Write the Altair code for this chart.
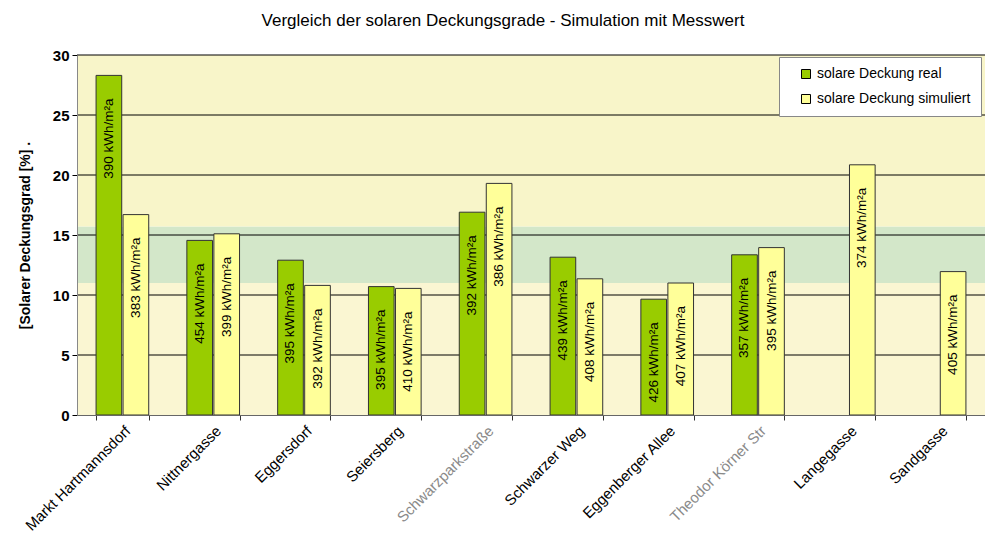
import altair as alt
import pandas as pd

standorte = ["Markt Hartmannsdorf", "Nittnergasse", "Eggersdorf", "Seiersberg",
             "Schwarzparkstraße", "Schwarzer Weg", "Eggenberger Allee",
             "Theodor Körner Str", "Langegasse", "Sandgasse"]
real = [28.3, 14.55, 12.9, 10.7, 16.9, 13.15, 9.65, 13.35, None, None]
simuliert = [16.7, 15.1, 10.8, 10.55, 19.3, 11.35, 11.0, 13.95, 20.85, 11.95]
real_kwh = ["390", "454", "395", "395", "392", "439", "426", "357", None, None]
sim_kwh = ["383", "399", "392", "410", "386", "408", "407", "395", "374", "405"]

serien = ["solare Deckung real", "solare Deckung simuliert"]
farben = ["#99CC00", "#FFFF99"]

band_lo = [0, 11, 15.7]
band_hi = [11, 15.7, 30]
band_farbe = ["#FAF6D2", "#D3E7C9", "#F8F5C9"]

grid_werte = [5, 10, 15, 20, 25, 30]

WIDTH = 908
HEIGHT = 360

rows = []
for i, s in enumerate(standorte):
    if real[i] is not None:
        rows.append({"Standort": s, "Serie": serien[0], "Wert": real[i],
                     "Label": real_kwh[i] + " kWh/m²a"})
    rows.append({"Standort": s, "Serie": serien[1], "Wert": simuliert[i],
                 "Label": sim_kwh[i] + " kWh/m²a"})
df = pd.DataFrame(rows)

bg_df = pd.DataFrame({"lo": band_lo, "hi": band_hi, "farbe": band_farbe})
grid_df = pd.DataFrame({"g": grid_werte})

yscale = alt.Scale(domain=[0, 30], nice=False, zero=True)
xscale = alt.Scale(domain=standorte, paddingInner=0.42, paddingOuter=0.21)
offscale = alt.Scale(domain=serien, paddingInner=0.05)

bg = alt.Chart(bg_df).mark_rect().encode(
    x=alt.value(0), x2=alt.value(WIDTH),
    y=alt.Y("lo:Q", scale=yscale,
            axis=alt.Axis(title="[Solarer Deckungsgrad [%]  .", values=[0, 5, 10, 15, 20, 25, 30],
                          grid=False, tickSize=5, tickColor="#000", domainColor="#888",
                          labelFont="Liberation Sans", labelFontSize=15, labelFontWeight="bold",
                          labelColor="#000", labelPadding=3,
                          titleFont="Liberation Sans", titleFontSize=14, titleFontWeight="bold",
                          titleColor="#000", titlePadding=20, zindex=1)),
    y2="hi:Q",
    fill=alt.Fill("farbe:N", scale=None),
)

grid = alt.Chart(grid_df).mark_rule(color="#000", strokeWidth=1).encode(
    x=alt.value(0), x2=alt.value(WIDTH),
    y=alt.Y("g:Q", scale=yscale),
)

bars = alt.Chart(df).mark_bar(stroke="#333", strokeWidth=1).encode(
    x=alt.X("Standort:N", scale=xscale, sort=standorte,
            axis=alt.Axis(title=None, labelAngle=-45, tickBand="extent", tickSize=5,
                          tickColor="#333", domainColor="#666",
                          labelFont="Liberation Sans", labelFontSize=15, labelColor={
                              "expr": "indexof(['Schwarzparkstraße','Theodor Körner Str'], datum.value) >= 0 ? '#8a8a8a' : '#000'"},
                          labelPadding=3, zindex=1)),
    xOffset=alt.XOffset("Serie:N", scale=offscale, sort=serien),
    y=alt.Y("Wert:Q", scale=yscale),
    fill=alt.Fill("Serie:N", scale=alt.Scale(domain=serien, range=farben),
                  legend=alt.Legend(title=None, orient="none", legendX=702, legendY=2,
                                    fillColor="#FFFFFF", strokeColor="#888", padding=10,
                                    rowPadding=11, labelFont="Liberation Sans", labelFontSize=14,
                                    labelColor="#000", symbolType="square", symbolSize=81,
                                    symbolStrokeColor="#000", symbolStrokeWidth=1,
                                    symbolOffset=10, labelLimit=300)),
)

text = alt.Chart(df).mark_text(angle=270, align="right", baseline="middle", dx=-23,
                               font="Liberation Sans", fontSize=13.5, color="#000").encode(
    x=alt.X("Standort:N", scale=xscale, sort=standorte),
    xOffset=alt.XOffset("Serie:N", scale=offscale, sort=serien),
    y=alt.Y("Wert:Q", scale=yscale),
    text="Label:N",
)

chart = alt.layer(bg, grid, bars, text).properties(
    width=WIDTH, height=HEIGHT,
    title=alt.TitleParams("Vergleich der solaren Deckungsgrade - Simulation mit Messwert",
                          font="Liberation Sans", fontSize=17, fontWeight="normal",
                          color="#000", anchor="middle", dx=-28, offset=18),
    autosize=alt.AutoSizeParams(type="none"),
    padding={"left": 69, "top": 47, "right": 0, "bottom": 125},
).configure_view(stroke=None)

chart.save("out.html", embed_options={"renderer": "svg", "actions": False})
